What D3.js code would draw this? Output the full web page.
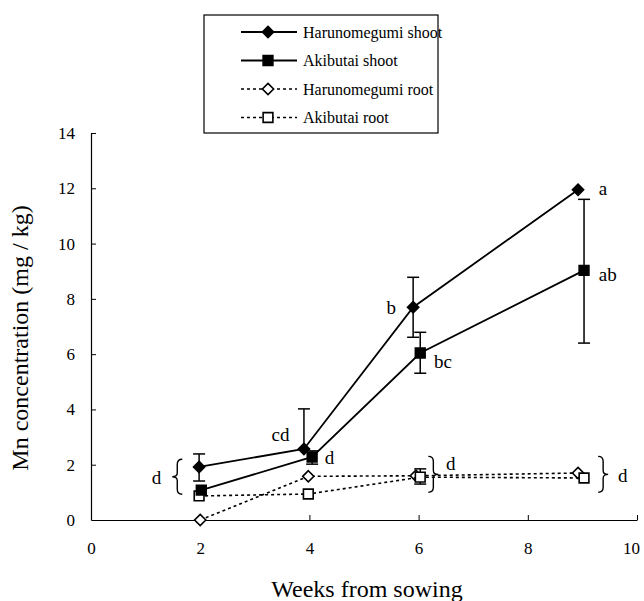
<!DOCTYPE html>
<html>
<head>
<meta charset="utf-8">
<script src="https://cdn.jsdelivr.net/npm/d3@7"></script>
<style>
  body { margin: 0; background: #fff; }
  svg text { font-family: "Liberation Serif", "Times New Roman", Tinos, "DejaVu Serif", serif !important; }
</style>
</head>
<body>
<svg id="chart" width="644" height="601"></svg>
<script>
// data
var seriesNames = ["Harunomegumi shoot", "Akibutai shoot", "Harunomegumi root", "Akibutai root"];
var haruShootX = [1.98, 3.9, 5.9, 8.92];
var haruShootY = [1.92, 2.57, 7.7, 11.95];
var haruShootLo = [1.41, 2.57, 6.61, 11.95];
var haruShootHi = [2.39, 4.02, 8.78, 11.95];
var akiShootX = [2.02, 4.05, 6.03, 9.03];
var akiShootY = [1.08, 2.28, 6.04, 9.03];
var akiShootLo = [1.08, 2.02, 5.31, 6.4];
var akiShootHi = [1.08, 2.5, 6.79, 11.6];
var haruRootX = [2.0, 3.98, 5.95, 8.92];
var haruRootY = [0.0, 1.58, 1.6, 1.7];
var akiRootX = [1.98, 3.98, 6.03, 9.03];
var akiRootY = [0.87, 0.94, 1.55, 1.52];
var akiRootLo = [0.87, 0.94, 1.3, 1.52];
var akiRootHi = [0.87, 0.94, 1.85, 1.52];
var xTicks = [0, 2, 4, 6, 8, 10];
var yTicks = [0, 2, 4, 6, 8, 10, 12, 14];
// significance letters: [x, y, text, anchor]
var letters = [
  [1.2, 1.55, "d", "middle"],
  [3.47, 3.1, "cd", "middle"],
  [4.28, 2.25, "d", "start"],
  [5.5, 7.7, "b", "middle"],
  [6.28, 5.75, "bc", "start"],
  [9.3, 12.0, "a", "start"],
  [9.3, 8.9, "ab", "start"],
  [6.5, 2.05, "d", "start"],
  [9.65, 1.62, "d", "start"]
];
// braces grouping points: [x, yLow, yHigh, side]
var braces = [
  [1.58, 0.93, 2.2, "left"],
  [6.27, 1.0, 2.3, "right"],
  [9.38, 1.0, 2.3, "right"]
];

var svg = d3.select("#chart");
var x = d3.scaleLinear().domain([0, 10]).range([91, 637]);
var y = d3.scaleLinear().domain([0, 14]).range([520, 133]);

// axes, ticks pointing inward
var xAxis = svg.append("g").attr("transform", "translate(0,520)")
  .call(d3.axisBottom(x).tickValues(xTicks).tickSizeInner(-5).tickSizeOuter(0).tickPadding(22));
var yAxis = svg.append("g").attr("transform", "translate(91,0)")
  .call(d3.axisLeft(y).tickValues(yTicks).tickSizeInner(-5).tickSizeOuter(0).tickPadding(16));
[xAxis, yAxis].forEach(function (a) {
  a.attr("font-family", null);
  a.select(".domain").attr("stroke", "#000").attr("stroke-width", 1.2);
  a.selectAll(".tick line").attr("stroke", "#000");
  a.selectAll(".tick text").attr("font-size", 17).attr("fill", "#000");
});
xAxis.selectAll(".tick").filter(function (d) { return d == 0; }).select("line").remove();
yAxis.selectAll(".tick").filter(function (d) { return d == 0; }).select("line").remove();
// last x label sits against the page edge
xAxis.selectAll(".tick").filter(function (d) { return d == 10; }).select("text").attr("dx", -6);

svg.append("text").attr("x", 367).attr("y", 597).attr("text-anchor", "middle")
  .attr("font-size", 24).text("Weeks from sowing");
svg.append("text").attr("transform", "translate(28,338)rotate(-90)").attr("text-anchor", "middle")
  .attr("font-size", 24).text("Mn concentration (mg / kg)");

var line = d3.line().x(function (d) { return x(d[0]); }).y(function (d) { return y(d[1]); });
function zip(a, b) { return a.map(function (v, i) { return [v, b[i]]; }); }

function errorBars(xs, lo, hi) {
  var g = svg.append("g").attr("stroke", "#000").attr("stroke-width", 1.5);
  xs.forEach(function (xv, i) {
    if (Math.abs(hi[i] - lo[i]) < 0.01) return;
    var px = x(xv);
    g.append("line").attr("x1", px).attr("x2", px).attr("y1", y(lo[i])).attr("y2", y(hi[i]));
    g.append("line").attr("x1", px - 6).attr("x2", px + 6).attr("y1", y(lo[i])).attr("y2", y(lo[i]));
    g.append("line").attr("x1", px - 6).attr("x2", px + 6).attr("y1", y(hi[i])).attr("y2", y(hi[i]));
  });
}

var diamond = d3.symbol().type(d3.symbolDiamond2).size(80);
var square = d3.symbol().type(d3.symbolSquare).size(95);

function series(xs, ys, dashed, sym, filled) {
  svg.append("path").datum(zip(xs, ys)).attr("d", line)
    .attr("fill", "none").attr("stroke", "#000").attr("stroke-width", dashed ? 1.6 : 1.8)
    .attr("stroke-dasharray", dashed ? "3,3" : null);
  svg.append("g").selectAll("path").data(zip(xs, ys)).enter().append("path")
    .attr("d", sym)
    .attr("transform", function (d) { return "translate(" + x(d[0]) + "," + y(d[1]) + ")"; })
    .attr("fill", filled ? "#000" : "#fff").attr("stroke", "#000").attr("stroke-width", 1.6);
}

errorBars(akiRootX, akiRootLo, akiRootHi);
series(haruRootX, haruRootY, true, diamond, false);
series(akiRootX, akiRootY, true, square, false);
errorBars(haruShootX, haruShootLo, haruShootHi);
errorBars(akiShootX, akiShootLo, akiShootHi);
series(haruShootX, haruShootY, false, diamond, true);
series(akiShootX, akiShootY, false, square, true);

svg.append("g").selectAll("text").data(letters).enter().append("text")
  .attr("x", function (d) { return x(d[0]); })
  .attr("y", function (d) { return y(d[1]); })
  .attr("dy", "0.35em")
  .attr("text-anchor", function (d) { return d[3]; })
  .attr("font-size", 19).text(function (d) { return d[2]; });

// curly braces
svg.append("g").selectAll("path").data(braces).enter().append("path")
  .attr("fill", "none").attr("stroke", "#000").attr("stroke-width", 1.4)
  .attr("d", function (d) {
    var px = x(d[0]), y0 = y(d[2]), y1 = y(d[1]), m = (y0 + y1) / 2;
    var s = d[3] == "left" ? -1 : 1, w = 5;
    return "M" + (px - s * w) + "," + y0 +
      "Q" + px + "," + y0 + " " + px + "," + (y0 + 5) +
      "L" + px + "," + (m - 4) +
      "Q" + px + "," + m + " " + (px + s * w) + "," + m +
      "Q" + px + "," + m + " " + px + "," + (m + 4) +
      "L" + px + "," + (y1 - 5) +
      "Q" + px + "," + y1 + " " + (px - s * w) + "," + y1;
  });

// legend
var leg = svg.append("g");
leg.append("rect").attr("x", 204).attr("y", 15).attr("width", 234).attr("height", 118)
  .attr("fill", "#fff").attr("stroke", "#000").attr("stroke-width", 1.2);
var legSyms = [diamond, square, diamond, square];
seriesNames.forEach(function (name, i) {
  var ly = 32 + i * 28.5;
  var dashed = i >= 2;
  leg.append("line").attr("x1", 241).attr("x2", 297).attr("y1", ly).attr("y2", ly)
    .attr("stroke", "#000").attr("stroke-width", dashed ? 1.6 : 1.8)
    .attr("stroke-dasharray", dashed ? "3,3" : null);
  leg.append("path").attr("d", legSyms[i]).attr("transform", "translate(268," + ly + ")")
    .attr("fill", dashed ? "#fff" : "#000").attr("stroke", "#000").attr("stroke-width", 1.6);
  leg.append("text").attr("x", 303).attr("y", ly).attr("dy", "0.35em")
    .attr("font-size", 16).text(name);
});
</script>
</body>
</html>
